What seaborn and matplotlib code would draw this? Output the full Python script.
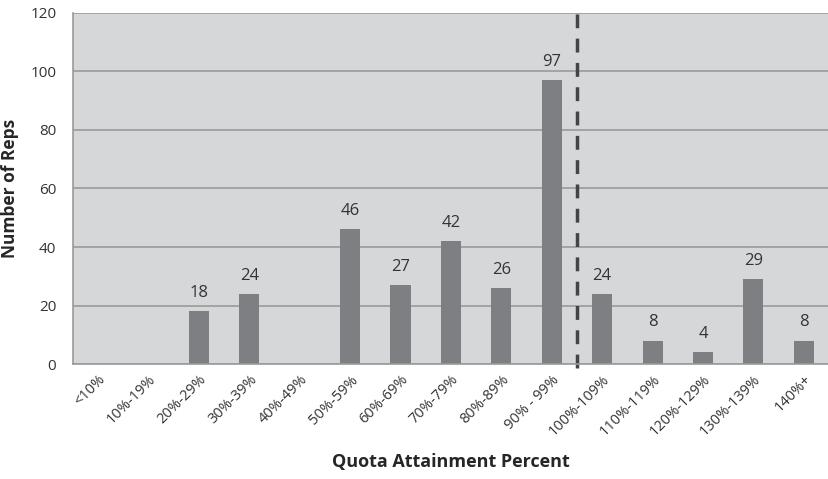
import matplotlib
matplotlib.use("Agg")
import matplotlib.pyplot as plt
import seaborn as sns
import pandas as pd

categories = ["<10%", "10%-19%", "20%-29%", "30%-39%", "40%-49%", "50%-59%", "60%-69%",
              "70%-79%", "80%-89%", "90% - 99%", "100%-109%", "110%-119%", "120%-129%",
              "130%-139%", "140%+"]
counts = [0, 0, 18, 24, 0, 46, 27, 42, 26, 97, 24, 8, 4, 29, 8]
yticks = [0, 20, 40, 60, 80, 100, 120]

sns.set_theme(style="white")
plt.rcParams['font.family'] = ['Open Sans', 'DejaVu Sans']

df = pd.DataFrame({"cat": categories, "n": counts})

fig = plt.figure(figsize=(8.29, 4.79), dpi=100)
ax = fig.add_axes([0.088, 0.24, 0.912, 0.733])
ax.set_facecolor("#d6d7d9")

sns.barplot(data=df, x="cat", y="n", color="#7e7f82", width=0.4, ax=ax, saturation=1,
            edgecolor="none", linewidth=0)

for i, v in enumerate(counts):
    if v > 0:
        ax.text(i, v + 3.5, str(v), ha="center", va="bottom", fontsize=12, color="#333333")

ax.set_ylim(0, 120)
ax.set_xlim(-0.5, len(categories) - 0.5)
ax.set_yticks(yticks)
ax.yaxis.grid(True, color="#9a9a9a", linewidth=1.2)
ax.set_axisbelow(True)
for s in ["top", "right"]:
    ax.spines[s].set_visible(False)
ax.spines["left"].set_color("#9a9a9a")
ax.spines["bottom"].set_color("#9a9a9a")
ax.spines["left"].set_linewidth(1.2)
ax.spines["bottom"].set_linewidth(1.2)

ax.tick_params(axis="y", length=6, color="#9a9a9a", labelsize=11, labelcolor="#333333", pad=6)
ax.tick_params(axis="x", length=0, labelsize=10.5, labelcolor="#333333", pad=6)
plt.setp(ax.get_xticklabels(), rotation=45, ha="right", rotation_mode="anchor")

ax.plot([9.5, 9.5], [-1.5, 119.5], linestyle=(0, (4, 3)), color="#444444", linewidth=2.5,
        clip_on=False)

ax.set_xlabel("Quota Attainment Percent", fontsize=13, fontweight="bold", labelpad=10)
ax.set_ylabel("Number of Reps", fontsize=12.5, fontweight="bold", labelpad=8)

fig.savefig("out.png", dpi=100)
